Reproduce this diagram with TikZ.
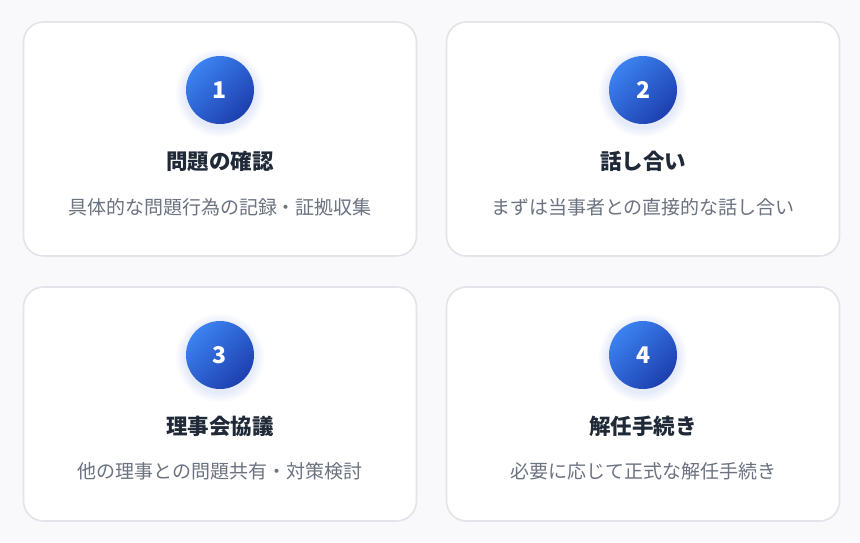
\documentclass[tikz,border=0pt]{standalone}
\usepackage{fontspec}
\newfontfamily\jp{Noto Sans CJK JP}
\definecolor{pagebg}{HTML}{F9F9FB}
\definecolor{cardline}{HTML}{E3E3EA}
\definecolor{numlight}{HTML}{3B82F0}
\definecolor{numdark}{HTML}{1E3FAF}
\definecolor{glow}{HTML}{3B6FF0}
\definecolor{titletext}{HTML}{1F2937}
\definecolor{subtext}{HTML}{6B7280}
\begin{document}
\begin{tikzpicture}[x=1pt, y=-1pt,
    card/.style={draw=cardline, line width=1.6pt, fill=white, rounded corners=20pt,
        minimum width=393pt, minimum height=234pt, inner sep=0pt},
    halo/.style={fill=glow, opacity=0.025, draw=none},
    num/.style={circle, minimum size=68pt, inner sep=0pt, text=white,
        top color=numlight, bottom color=numdark, shading angle=45,
        font=\jp\bfseries\fontsize{23}{23}\selectfont},
    title/.style={text=titletext, inner sep=0pt, text height=0.88em, text depth=0.12em,
        font=\jp\bfseries\fontsize{21.5}{22}\selectfont},
    desc/.style={text=subtext, inner sep=0pt, text height=0.88em, text depth=0.12em,
        font=\jp\fontsize{19}{20}\selectfont}]
    \fill[pagebg] (0,0) rectangle (860,542);
    \useasboundingbox (0,0) rectangle (860,542);

    \node[card] (card1) at (220,139) {};
    \node[card] (card2) at (643,139) {};
    \node[card] (card3) at (220,404) {};
    \node[card] (card4) at (643,404) {};

    \foreach \r in {36,38,40,42,44} {
        \fill[halo] (220,93) circle (\r);
        \fill[halo] (643,93) circle (\r);
        \fill[halo] (220,358) circle (\r);
        \fill[halo] (643,358) circle (\r);
    }

    \node[num] (num1) at (220,90) {1};
    \node[title] (title1) at (220,166) {問題の確認};
    \node[desc] (desc1) at (220,211) {具体的な問題行為の記録・証拠収集};

    \node[num] (num2) at (643,90) {2};
    \node[title] (title2) at (643,166) {話し合い};
    \node[desc] (desc2) at (643,211) {まずは当事者との直接的な話し合い};

    \node[num] (num3) at (220,355) {3};
    \node[title] (title3) at (220,431) {理事会協議};
    \node[desc] (desc3) at (220,475) {他の理事との問題共有・対策検討};

    \node[num] (num4) at (643,355) {4};
    \node[title] (title4) at (643,431) {解任手続き};
    \node[desc] (desc4) at (643,475) {必要に応じて正式な解任手続き};
\end{tikzpicture}
\end{document}
